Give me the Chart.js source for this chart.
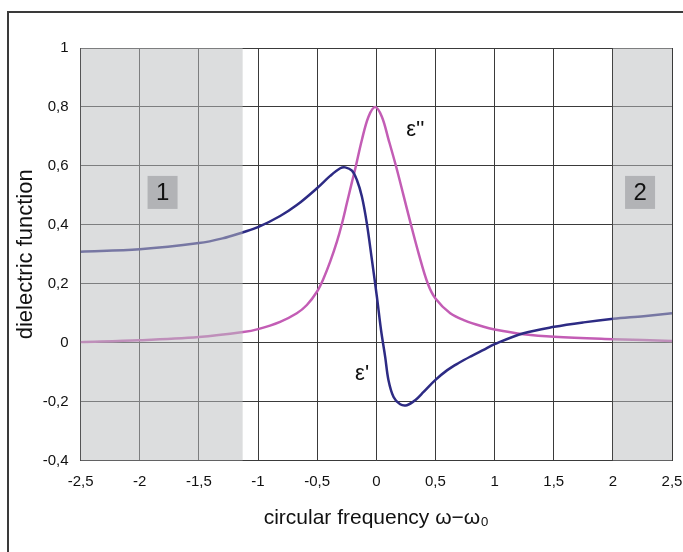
<!DOCTYPE html>
<html><head><meta charset="utf-8">
<script src="https://cdn.jsdelivr.net/npm/chart.js@4/dist/chart.umd.min.js"></script>
<style>html,body{margin:0;padding:0;background:#fff;overflow:hidden}#c{display:block}</style>
</head><body>
<canvas id="c" width="683" height="552"></canvas>
<script>
// ---- data ----
const epsPrimeX = [-2.5,-2.0,-1.5,-1.3,-1.126,-1.0,-0.813,-0.672,-0.502,-0.39,-0.305,-0.263,-0.206,-0.164,-0.122,-0.08,-0.037,0.005,0.04,0.075,0.103,0.146,0.202,0.259,0.329,0.4,0.498,0.6,0.7,0.8,0.907,1.0,1.245,1.505,1.753,2.004,2.26,2.5];
const epsPrimeY = [0.309,0.317,0.338,0.354,0.375,0.392,0.43,0.467,0.524,0.566,0.592,0.595,0.584,0.552,0.496,0.405,0.281,0.156,0.043,-0.048,-0.127,-0.184,-0.209,-0.212,-0.195,-0.167,-0.127,-0.093,-0.068,-0.046,-0.024,-0.005,0.032,0.054,0.069,0.081,0.09,0.1];
const epsSecondX = [-2.5,-2.0,-1.5,-1.126,-1.0,-0.813,-0.672,-0.587,-0.502,-0.446,-0.39,-0.333,-0.291,-0.249,-0.206,-0.178,-0.122,-0.066,-0.01,0.047,0.103,0.168,0.23,0.287,0.36,0.436,0.5,0.625,0.75,0.9,1.0,1.245,1.505,2.004,2.5];
const epsSecondY = [0.002,0.008,0.019,0.036,0.046,0.071,0.1,0.128,0.173,0.218,0.275,0.343,0.403,0.473,0.545,0.59,0.688,0.767,0.8,0.767,0.69,0.597,0.5,0.41,0.3,0.2,0.15,0.1,0.075,0.055,0.045,0.029,0.02,0.012,0.006];
const xTicks = [-2.5,-2,-1.5,-1,-0.5,0,0.5,1,1.5,2,2.5];
const yTicks = [-0.4,-0.2,0,0.2,0.4,0.6,0.8,1];
const shadedFrom = [-2.5, 2];
const shadedTo = [-1.13, 2.5];
const regionLabels = ['1','2'];
const regionLabelX = [-1.807, 2.23];
const regionLabelY = [0.51, 0.51];
const curveLabels = ["ε''", "ε'"];
const curveLabelX = [0.33, -0.12];
const curveLabelY = [0.722, -0.107];

const FONT = "'Liberation Sans', Arial, Helvetica, sans-serif";
const fmt = v => String(Math.round(v*10)/10).replace('.', ',');

const overlay = {
  id: 'overlay',
  afterDatasetsDraw(chart) {
    const {ctx, chartArea: a, scales: {x, y}} = chart;
    ctx.save();
    ctx.fillStyle = 'rgba(188,189,192,0.52)';
    for (let i = 0; i < shadedFrom.length; i++) {
      const l = x.getPixelForValue(shadedFrom[i]);
      const r = x.getPixelForValue(shadedTo[i]);
      ctx.fillRect(l, a.top, r - l, a.bottom - a.top);
    }
    ctx.textAlign = 'center';
    ctx.textBaseline = 'middle';
    for (let i = 0; i < regionLabels.length; i++) {
      const cx = x.getPixelForValue(regionLabelX[i]);
      const cy = y.getPixelForValue(regionLabelY[i]);
      ctx.fillStyle = '#b2b3b6';
      ctx.fillRect(cx - 15, cy - 16.5, 30, 33);
      ctx.fillStyle = '#111';
      ctx.font = '24px ' + FONT;
      ctx.fillText(regionLabels[i], cx, cy + 1);
    }
    ctx.font = '22px ' + FONT;
    for (let i = 0; i < curveLabels.length; i++) {
      ctx.fillStyle = '#111';
      ctx.fillText(curveLabels[i], x.getPixelForValue(curveLabelX[i]), y.getPixelForValue(curveLabelY[i]));
    }
    ctx.restore();
  },
  afterDraw(chart) {
    const ctx = chart.ctx;
    ctx.save();
    ctx.strokeStyle = '#3a3a3a';
    ctx.lineWidth = 2;
    ctx.strokeRect(8, 12, 720, 600);
    ctx.restore();
  }
};

new Chart(document.getElementById('c'), {
  type: 'line',
  data: {
    datasets: [
      { label: "ε'", data: epsPrimeX.map((v, i) => ({x: v, y: epsPrimeY[i]})),
        borderColor: '#2d2b84', borderWidth: 2.5, pointRadius: 0, fill: false, tension: 0.35 },
      { label: "ε''", data: epsSecondX.map((v, i) => ({x: v, y: epsSecondY[i]})),
        borderColor: '#c35db5', borderWidth: 2.5, pointRadius: 0, fill: false, tension: 0.35 }
    ]
  },
  options: {
    responsive: false, animation: false, devicePixelRatio: 1,
    layout: { padding: { top: 48, right: 11, left: 0, bottom: 0 } },
    plugins: { legend: { display: false }, tooltip: { enabled: false } },
    scales: {
      x: {
        type: 'linear', min: -2.5, max: 2.5,
        afterBuildTicks: s => { s.ticks = xTicks.map(v => ({value: v})); },
        afterFit: s => { s.height = 91.4; s.paddingLeft = 0; s.paddingRight = 0; },
        ticks: { callback: fmt, font: { family: FONT, size: 15 }, color: '#111', padding: 12, maxRotation: 0, autoSkip: false },
        grid: { color: '#3a3a3a', lineWidth: 1, drawTicks: false },
        border: { color: '#3a3a3a' },
        title: { display: true, text: 'circular frequency ω−ω₀', color: '#111', font: { family: FONT, size: 21 }, padding: { top: 21, bottom: 21 } }
      },
      y: {
        type: 'linear', min: -0.4, max: 1,
        afterBuildTicks: s => { s.ticks = yTicks.map(v => ({value: v})); },
        afterFit: s => { s.width = 80.6; s.paddingTop = 0; s.paddingBottom = 0; },
        ticks: { callback: fmt, font: { family: FONT, size: 15 }, color: '#111', padding: 12, autoSkip: false },
        grid: { color: '#3a3a3a', lineWidth: 1, drawTicks: false },
        border: { color: '#3a3a3a' },
        title: { display: true, text: 'dielectric function', color: '#111', font: { family: FONT, size: 22 }, padding: { top: 13, bottom: 13 } }
      }
    }
  },
  plugins: [overlay]
});
</script>
</body></html>
